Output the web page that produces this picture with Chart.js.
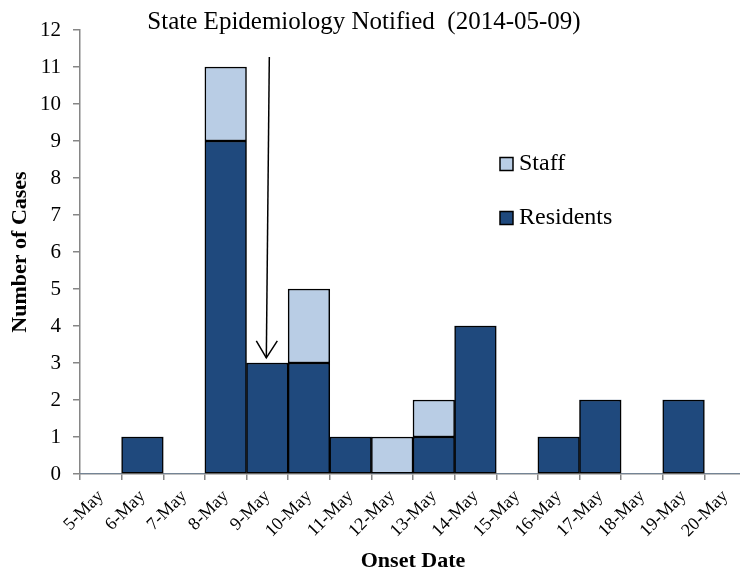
<!DOCTYPE html>
<html>
<head>
<meta charset="utf-8">
<script src="https://cdn.jsdelivr.net/npm/chart.js@4"></script>
<style>
html,body{margin:0;padding:0;background:#fff;overflow:hidden;}
#wrap{width:760px;height:571px;position:relative;}
</style>
</head>
<body>
<div id="wrap"><canvas id="c" width="760" height="571"></canvas></div>
<script>
const dates = ['5-May','6-May','7-May','8-May','9-May','10-May','11-May','12-May','13-May','14-May','15-May','16-May','17-May','18-May','19-May','20-May'];
const residents = [0,1,0,9,3,3,1,0,1,4,0,1,2,0,2,0];
const staff = [0,0,0,2,0,2,0,1,1,0,0,0,0,0,0,0];
const yTicks = [0,1,2,3,4,5,6,7,8,9,10,11,12];
const annotationText = 'State Epidemiology Notified  (2014-05-09)';
const annotationDate = '9-May';
const arrowFrom = 11.27;
const arrowTo = 3.14;

const SERIF = '"Liberation Serif", "DejaVu Serif", serif';
const GRAY = '#868686';
const RES_COLOR = '#1F497D';
const STAFF_COLOR = '#B9CDE5';

const overlay = {
  id: 'overlay',
  afterDraw(chart) {
    const ctx = chart.ctx;
    const xs = chart.scales.x, ys = chart.scales.y;
    ctx.save();
    ctx.fillStyle = '#000';
    ctx.font = '25px ' + SERIF;
    ctx.textAlign = 'center';
    ctx.textBaseline = 'middle';
    ctx.fillText(annotationText, 364, 22);
    const xc = xs.getPixelForValue(dates.indexOf(annotationDate));
    const yTop = ys.getPixelForValue(arrowFrom);
    const yTip = ys.getPixelForValue(arrowTo);
    ctx.strokeStyle = '#000';
    ctx.lineWidth = 1.5;
    ctx.beginPath();
    ctx.moveTo(xc + 2, yTop);
    ctx.lineTo(xc - 1, yTip);
    ctx.stroke();
    ctx.beginPath();
    ctx.moveTo(xc - 11, yTip - 17);
    ctx.lineTo(xc - 1, yTip);
    ctx.lineTo(xc + 10, yTip - 17);
    ctx.stroke();
    const items = [
      {label: chart.data.datasets[1].label, color: chart.data.datasets[1].backgroundColor, y: 164},
      {label: chart.data.datasets[0].label, color: chart.data.datasets[0].backgroundColor, y: 218}
    ];
    ctx.font = '24px ' + SERIF;
    ctx.textAlign = 'left';
    items.forEach(it => {
      ctx.fillStyle = it.color;
      ctx.fillRect(500, it.y - 6.5, 13, 13);
      ctx.lineWidth = 1.5;
      ctx.strokeStyle = '#000';
      ctx.strokeRect(500, it.y - 6.5, 13, 13);
      ctx.fillStyle = '#000';
      ctx.fillText(it.label, 519, it.y);
    });
    ctx.restore();
  }
};

new Chart(document.getElementById('c'), {
  type: 'bar',
  data: {
    labels: dates,
    datasets: [
      {label: 'Residents', data: residents, backgroundColor: RES_COLOR, borderColor: '#000',
       borderWidth: c => c.raw ? 1.5 : 0, borderSkipped: false},
      {label: 'Staff', data: staff, backgroundColor: STAFF_COLOR, borderColor: '#000',
       borderWidth: c => c.raw ? 1.5 : 0, borderSkipped: false}
    ]
  },
  options: {
    responsive: false,
    animation: false,
    devicePixelRatio: 1,
    layout: {padding: {top: 30, right: 14, left: 0, bottom: 0}},
    datasets: {bar: {barPercentage: 1, categoryPercentage: 1}},
    plugins: {legend: {display: false}, tooltip: {enabled: false}, title: {display: false}},
    scales: {
      x: {
        stacked: true,
        offset: true,
        grid: {offset: true, drawOnChartArea: false, color: GRAY, lineWidth: 1.5, tickLength: 6},
        border: {color: GRAY, width: 1.5},
        ticks: {color: '#000', font: {family: SERIF, size: 18}, minRotation: 45, maxRotation: 45, autoSkip: false, padding: 6},
        title: {display: true, text: 'Onset Date', color: '#000', font: {family: SERIF, size: 22, weight: 'bold'}, padding: {top: 0, bottom: -4}},
        afterFit: s => { s.height = 97; }
      },
      y: {
        stacked: true,
        min: 0, max: 12,
        afterBuildTicks: s => { s.ticks = yTicks.map(v => ({value: v})); },
        grid: {drawOnChartArea: false, color: GRAY, lineWidth: 1.5, tickLength: 7},
        border: {color: GRAY, width: 1.5},
        ticks: {color: '#000', font: {family: SERIF, size: 21}, padding: 12},
        title: {display: true, text: 'Number of Cases', color: '#000', font: {family: SERIF, size: 22, weight: 'bold'}, padding: {top: 7, bottom: 0}},
        afterFit: s => { s.width = 80; }
      }
    }
  },
  plugins: [overlay]
});
</script>
</body>
</html>
